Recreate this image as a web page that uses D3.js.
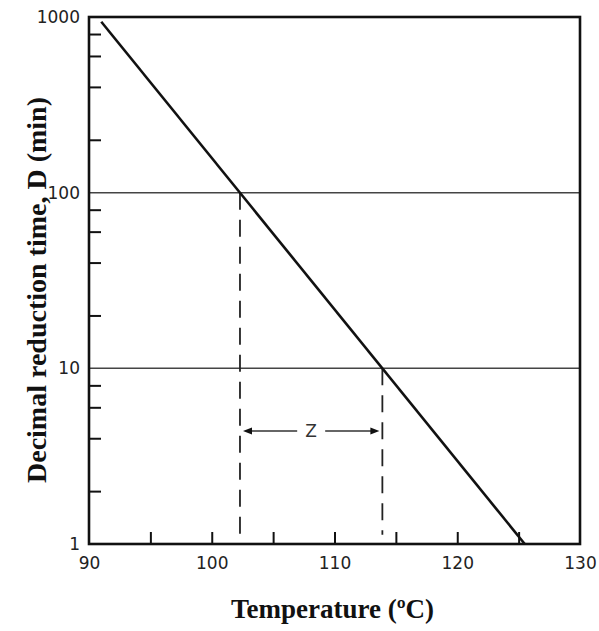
<!DOCTYPE html>
<html>
<head>
<meta charset="utf-8">
<title>Decimal reduction time</title>
<script src="https://cdn.jsdelivr.net/npm/d3@7"></script>
<style>
body { margin: 0; background: #fff; }
.axis text { font-family: "DejaVu Sans", sans-serif; font-size: 17px; fill: #222; }
.axis line { stroke: #111; stroke-width: 2; }
.title { font-family: "Liberation Serif", "Times New Roman", serif; font-weight: bold; font-size: 27px; fill: #111; }
</style>
</head>
<body>
<svg width="599" height="631"></svg>
<script>
// data
var lineTemps = [91, 125.5];
var lineD = [940, 1];
var xTicks = [90, 100, 110, 120, 130];
var xMinor = [95, 105, 115, 125];
var yTicks = [1, 10, 100, 1000];
var yMinor = [2, 4, 6, 8, 20, 40, 60, 80, 200, 400, 600, 800];
var gridD = [10, 100];
var zTemps = [102.3, 113.9];
var zTops = [100, 10], zBottom = 1.13, zArrowD = 4.4;

var svg = d3.select("svg"),
	margin = {top: 17, right: 19, bottom: 87, left: 89},
	width = +svg.attr("width") - margin.left - margin.right,
	height = +svg.attr("height") - margin.top - margin.bottom;

var x = d3.scaleLinear().domain([90, 130]).range([0, width]),
	y = d3.scaleLog().domain([1, 1000]).range([height, 0]);

var g = svg.append("g")
	.attr("transform", "translate(" + margin.left + "," + margin.top + ")");

// grid lines at 10 and 100
g.selectAll(".grid")
	.data(gridD)
	.enter().append("line")
	.attr("x1", 0).attr("x2", width)
	.attr("y1", function(d) { return y(d); })
	.attr("y2", function(d) { return y(d); })
	.style("stroke", "#444").style("stroke-width", 1.5);

var xAxis = g.append("g")
	.attr("class", "axis")
	.attr("transform", "translate(0," + height + ")")
	.call(d3.axisBottom(x)
		.tickValues(xTicks.concat(xMinor))
		.tickSizeInner(-12).tickSizeOuter(0).tickPadding(13)
		.tickFormat(function(d) { return xTicks.indexOf(d) >= 0 ? d : ""; }));
xAxis.select(".domain").remove();
xAxis.selectAll(".tick").filter(function(d) { return d == 90 || d == 130; }).select("line").remove();

var yAxis = g.append("g")
	.attr("class", "axis")
	.call(d3.axisLeft(y)
		.tickValues(yTicks.concat(yMinor))
		.tickSizeInner(-12).tickSizeOuter(0).tickPadding(9)
		.tickFormat(function(d) { return yTicks.indexOf(d) >= 0 ? d : ""; }));
yAxis.select(".domain").remove();
yAxis.selectAll(".tick").filter(function(d) { return yTicks.indexOf(d) >= 0; }).select("line").remove();

// frame
g.append("rect")
	.attr("width", width).attr("height", height)
	.style("fill", "none").style("stroke", "#111").style("stroke-width", 2.6);

// dashed verticals
g.selectAll(".zline")
	.data(zTemps)
	.enter().append("line")
	.attr("x1", function(d) { return x(d); })
	.attr("x2", function(d) { return x(d); })
	.attr("y1", function(d, i) { return y(zTops[i]); })
	.attr("y2", y(zBottom))
	.style("stroke", "#222").style("stroke-width", 1.8)
	.style("stroke-dasharray", "17,10");

// z arrow
var ay = y(zArrowD), xl = x(zTemps[0]) + 3, xr = x(zTemps[1]) - 3, xm = (xl + xr) / 2;
g.append("line").attr("x1", xl + 7).attr("x2", xm - 14).attr("y1", ay).attr("y2", ay)
	.style("stroke", "#333").style("stroke-width", 1.5);
g.append("line").attr("x1", xm + 14).attr("x2", xr - 7).attr("y1", ay).attr("y2", ay)
	.style("stroke", "#333").style("stroke-width", 1.5);
g.append("path").attr("d", "M" + xl + "," + ay + "l9,-3.5v7z").style("fill", "#111");
g.append("path").attr("d", "M" + xr + "," + ay + "l-9,-3.5v7z").style("fill", "#111");
g.append("text")
	.attr("x", xm).attr("y", ay).attr("dy", "0.36em")
	.style("text-anchor", "middle")
	.style("font-family", "DejaVu Sans, sans-serif").style("font-size", "17px").style("fill", "#333")
	.text("Z");

// main line
var pts = lineTemps.map(function(t, i) { return [t, lineD[i]]; });
g.append("path")
	.datum(pts)
	.attr("d", d3.line().x(function(d) { return x(d[0]); }).y(function(d) { return y(d[1]); }))
	.style("fill", "none").style("stroke", "#111").style("stroke-width", 2.6);

// axis titles
svg.append("text")
	.attr("class", "title")
	.attr("x", margin.left + width / 2 - 2).attr("y", 618)
	.style("text-anchor", "middle")
	.text("Temperature (ºC)");

svg.append("text")
	.attr("class", "title")
	.attr("transform", "translate(46," + 290 + ") rotate(-90)")
	.style("text-anchor", "middle")
	.style("font-size", "28px")
	.text("Decimal reduction time, D (min)");
</script>
</body>
</html>
